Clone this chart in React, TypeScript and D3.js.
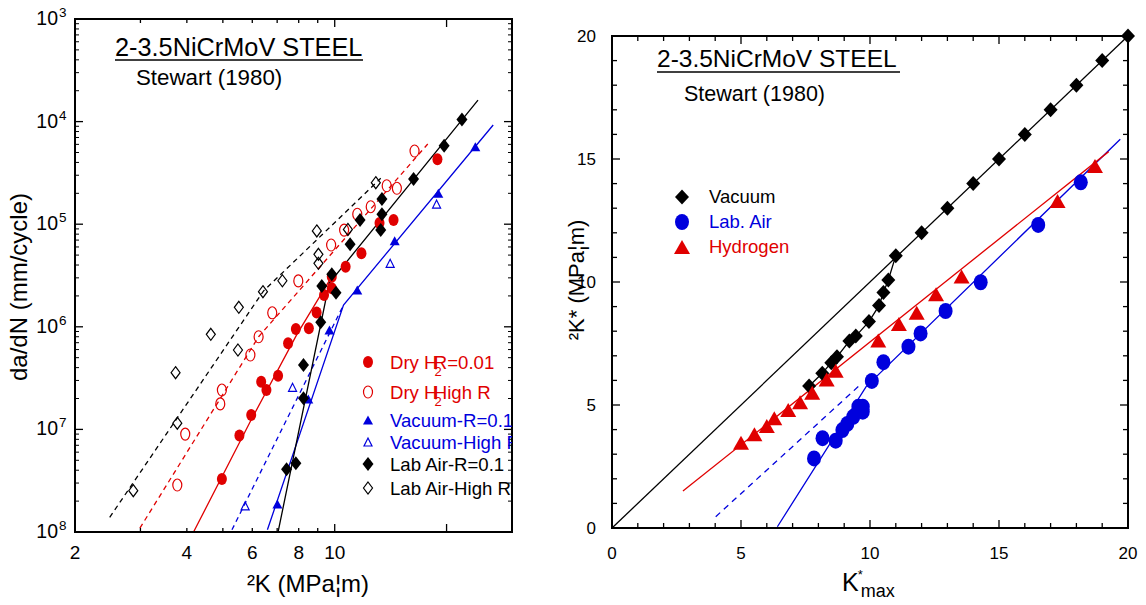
import React from 'react';
import * as d3 from 'd3';

type Pt = [number, number];

// left panel: da/dN vs ²K (log-log)
const dryH2R001: Pt[] = [[18.9, 4.29e-5], [14.4, 1.1e-5], [13.2, 1.03e-5], [11.8, 5.2e-6], [10.7, 3.85e-6], [9.82, 3.08e-6], [9.82, 2.37e-6], [9.36, 2.04e-6], [8.94, 1.38e-6], [8.52, 9.67e-7], [7.86, 9.5e-7], [7.49, 6.9e-7], [7.04, 3.34e-7], [6.55, 2.42e-7], [6.34, 2.92e-7], [5.96, 1.38e-7], [5.54, 8.7e-8], [4.97, 3.29e-8]];
const dryH2HighR: Pt[] = [[16.4, 5.17e-5], [14.7, 2.24e-5], [13.8, 2.37e-5], [12.5, 1.48e-5], [11.5, 1.25e-5], [10.6, 8.77e-6], [9.78, 6.27e-6], [7.98, 2.8e-6], [6.79, 1.37e-6], [6.24, 8.0e-7], [5.93, 5.31e-7], [4.97, 2.42e-7], [4.92, 1.77e-7], [3.96, 9.0e-8], [3.77, 2.87e-8]];
const vacuumR01: Pt[] = [[23.9, 5.69e-5], [19.0, 2.0e-5], [14.5, 6.9e-6], [11.5, 2.29e-6], [9.68, 9.3e-7], [8.49, 1.98e-7], [7.01, 1.87e-8]];
const vacuumHighR: Pt[] = [[18.8, 1.57e-5], [14.1, 4.16e-6], [7.7, 2.57e-7], [5.74, 1.8e-8]];
const labAirR01: Pt[] = [[22.0, 1.05e-4], [19.7, 5.82e-5], [16.3, 2.76e-5], [13.4, 1.76e-5], [13.4, 1.25e-5], [13.3, 8.8e-6], [11.7, 1.1e-5], [11.0, 6.37e-6], [9.82, 3.25e-6], [9.23, 2.5e-6], [10.08, 2.15e-6], [9.17, 1.11e-6], [8.24, 4.25e-7], [8.24, 2.01e-7], [7.86, 4.68e-8], [7.42, 4.08e-8]];
const labAirHighR: Pt[] = [[12.9, 2.54e-5], [10.85, 8.9e-6], [8.95, 8.6e-6], [9.04, 5.09e-6], [9.04, 4.16e-6], [7.23, 2.81e-6], [6.41, 2.2e-6], [5.52, 1.55e-6], [4.64, 8.45e-7], [5.49, 5.94e-7], [3.73, 3.57e-7], [3.77, 1.15e-7], [2.87, 2.53e-8]];

const dryH2R001Fit: Pt[] = [[4.17, 1e-8], [5.96, 1.24e-7], [7.89, 8.3e-7], [9.82, 3.08e-6]];
const dryH2HighRFit: Pt[] = [[2.99, 1.09e-8], [6.24, 8.0e-7], [17.8, 6.05e-5]];
const vacuumR01Fit: Pt[] = [[6.59, 1.05e-8], [10.56, 1.63e-6], [26.7, 9.27e-5]];
const vacuumHighRFit: Pt[] = [[5.29, 1.05e-8], [10.56, 1.63e-6]];
const labAirR01Fit: Pt[] = [[7.04, 1e-8], [9.66, 2.65e-6], [24.3, 1.62e-4]];
const labAirHighRFit: Pt[] = [[2.48, 1.39e-8], [6.43, 2.23e-6], [13.3, 2.8e-5]];

const leftXTicks = [2, 3, 4, 5, 6, 7, 8, 9, 10, 20, 30];
const leftXLabels = [2, 4, 6, 8, 10];
const leftYExps = [3, 4, 5, 6, 7, 8];

// right panel: ²K* vs K*max
const vacuum: Pt[] = [[7.64, 5.77], [8.15, 6.29], [8.5, 6.72], [8.72, 6.96], [9.2, 7.6], [9.45, 7.8], [9.96, 8.39], [10.35, 9.04], [10.52, 9.57], [10.71, 10.08], [11.0, 11.07], [12, 12], [13, 13], [14, 14], [15, 15], [16, 16], [17, 17], [18, 18], [19, 19], [20, 20]];
const labAir: Pt[] = [[7.83, 2.83], [8.16, 3.65], [8.67, 3.55], [8.93, 3.98], [9.12, 4.23], [9.35, 4.52], [9.55, 4.93], [9.72, 4.93], [9.72, 4.73], [10.07, 5.98], [10.52, 6.74], [11.49, 7.37], [11.96, 7.91], [12.93, 8.82], [14.29, 9.99], [16.52, 12.32], [18.17, 14.05]];
const hydrogen: Pt[] = [[5.0, 3.47], [5.52, 3.81], [6.0, 4.15], [6.29, 4.46], [6.83, 4.8], [7.29, 5.11], [7.76, 5.5], [8.32, 6.04], [8.67, 6.39], [10.32, 7.62], [11.12, 8.29], [11.81, 8.75], [12.56, 9.5], [13.55, 10.22], [17.27, 13.29], [18.72, 14.72]];
const diagonal: Pt[] = [[0, 0], [20, 20]];
const labAirFit: Pt[] = [[6.41, 0.05], [9.85, 5.75], [19.7, 15.8]];
const labAirDashed: Pt[] = [[4.02, 0.46], [9.6, 5.8]];
const hydrogenFit: Pt[] = [[2.75, 1.5], [19.25, 15.3]];
const rightTicks = d3.range(0, 21);
const rightLabels = [0, 5, 10, 15, 20];

const RED = '#e00000';
const BLUE = '#0000dd';
const FONT = 'Liberation Sans, Arial, sans-serif';

type Shape = 'circle' | 'tri' | 'diamond';

function Marker({ shape, x, y, w, h, color, filled }: { shape: Shape; x: number; y: number; w: number; h: number; color: string; filled: boolean }) {
    const fill = filled ? color : 'none';
    const sw = filled ? 0 : 1.2;
    if (shape === 'circle') {
        return <ellipse cx={x} cy={y} rx={w / 2} ry={h / 2} fill={fill} stroke={color} strokeWidth={sw} />;
    }
    if (shape === 'tri') {
        const p = `${x - w / 2},${y + h / 2} ${x + w / 2},${y + h / 2} ${x},${y - h / 2}`;
        return <polygon points={p} fill={fill} stroke={color} strokeWidth={sw} />;
    }
    const p = `${x},${y - h / 2} ${x + w / 2},${y} ${x},${y + h / 2} ${x - w / 2},${y}`;
    return <polygon points={p} fill={fill} stroke={color} strokeWidth={sw} />;
}

const App = () => {
    const xL = d3.scaleLog().domain([2, 30]).range([75, 512]);
    const yL = d3.scaleLog().domain([1e-8, 1e-3]).range([532, 19]);
    const xR = d3.scaleLinear().domain([0, 20]).range([612, 1128]);
    const yR = d3.scaleLinear().domain([0, 20]).range([528, 36]);

    const lineL = d3.line<Pt>().x(d => xL(d[0])).y(d => yL(d[1]));
    const lineR = d3.line<Pt>().x(d => xR(d[0])).y(d => yR(d[1]));

    const leftYMinor: number[] = [];
    for (let e = 8; e > 3; e--) {
        for (let m = 2; m <= 9; m++) leftYMinor.push(m * Math.pow(10, -e));
    }

    const leftSeries = [
        { data: dryH2R001, shape: 'circle' as Shape, color: RED, filled: true, w: 10, h: 12, label: 'R=0.01' },
        { data: dryH2HighR, shape: 'circle' as Shape, color: RED, filled: false, w: 9, h: 12, label: 'High R' },
        { data: vacuumR01, shape: 'tri' as Shape, color: BLUE, filled: true, w: 10, h: 9, label: 'Vacuum-R=0.1' },
        { data: vacuumHighR, shape: 'tri' as Shape, color: BLUE, filled: false, w: 8, h: 8, label: 'Vacuum-High R' },
        { data: labAirR01, shape: 'diamond' as Shape, color: '#000', filled: true, w: 11, h: 14, label: 'Lab Air-R=0.1' },
        { data: labAirHighR, shape: 'diamond' as Shape, color: '#000', filled: false, w: 9, h: 12, label: 'Lab Air-High R' },
    ];
    const legendRows = [362, 392, 420, 442, 464, 488];

    const leftFits = [
        { d: dryH2R001Fit, c: RED, dash: null },
        { d: dryH2HighRFit, c: RED, dash: '5,4' },
        { d: vacuumR01Fit, c: BLUE, dash: null },
        { d: vacuumHighRFit, c: BLUE, dash: '5,4' },
        { d: labAirR01Fit, c: '#000', dash: null },
        { d: labAirHighRFit, c: '#000', dash: '5,4' },
    ];

    return (
        <svg width={1146} height={605} style={{ position: 'absolute', left: 0, top: 0, background: '#fff' }} fontFamily={FONT}>
            <defs>
                <clipPath id="clipL"><rect x={0} y={0} width={512} height={605} /></clipPath>
                <clipPath id="plotL"><rect x={75} y={19} width={437} height={513} /></clipPath>
            </defs>

            {/* ---------- left panel ---------- */}
            <g clipPath="url(#plotL)">
                {leftFits.map((f, i) => (
                    <path key={i} d={lineL(f.d) || ''} fill="none" stroke={f.c} strokeWidth={1.3} strokeDasharray={f.dash || undefined} />
                ))}
            </g>
            {leftSeries.map((s, i) => s.data.map((d, j) => (
                <Marker key={i + '-' + j} shape={s.shape} x={xL(d[0])} y={yL(d[1])} w={s.w} h={s.h} color={s.color} filled={s.filled} />
            )))}

            <rect x={75} y={19} width={437} height={513} fill="none" stroke="#000" strokeWidth={2} />
            {leftXTicks.map(t => {
                const len = t === 10 || t === 20 ? 8 : 4;
                return (
                    <g key={'xt' + t}>
                        <line x1={xL(t)} x2={xL(t)} y1={532} y2={532 - len} stroke="#000" strokeWidth={1.3} />
                        <line x1={xL(t)} x2={xL(t)} y1={19} y2={19 + len} stroke="#000" strokeWidth={1.3} />
                    </g>
                );
            })}
            {leftXLabels.map(t => (
                <text key={'xl' + t} x={xL(t)} y={559} fontSize={19} textAnchor="middle">{t}</text>
            ))}
            {leftYExps.map(e => (
                <g key={'ye' + e}>
                    <line x1={75} x2={83} y1={yL(Math.pow(10, -e))} y2={yL(Math.pow(10, -e))} stroke="#000" strokeWidth={1.3} />
                    <line x1={512} x2={504} y1={yL(Math.pow(10, -e))} y2={yL(Math.pow(10, -e))} stroke="#000" strokeWidth={1.3} />
                    <text x={58} y={yL(Math.pow(10, -e)) + 6} fontSize={19.5} textAnchor="end">10</text>
                    <text x={59} y={yL(Math.pow(10, -e)) - 2} fontSize={13.5}>{e}</text>
                </g>
            ))}
            {leftYMinor.map((v, i) => (
                <g key={'ym' + i}>
                    <line x1={75} x2={79} y1={yL(v)} y2={yL(v)} stroke="#000" strokeWidth={1} />
                    <line x1={512} x2={508} y1={yL(v)} y2={yL(v)} stroke="#000" strokeWidth={1} />
                </g>
            ))}
            <text transform="translate(27,287) rotate(-90)" fontSize={24} textAnchor="middle">da/dN (mm/cycle)</text>
            <text x={308} y={592} fontSize={24} textAnchor="middle">²K (MPa¦m)</text>

            <text x={115} y={56} fontSize={25.3}>2-3.5NiCrMoV STEEL</text>
            <line x1={115} x2={363} y1={60} y2={60} stroke="#000" strokeWidth={1.5} />
            <text x={136} y={85} fontSize={22.3}>Stewart (1980)</text>

            <g clipPath="url(#clipL)">
                {leftSeries.map((s, i) => (
                    <g key={'lg' + i}>
                        <Marker shape={s.shape} x={368} y={legendRows[i]} w={s.w} h={s.h} color={s.color} filled={s.filled} />
                        {i < 2 ? (
                            <text x={390} y={legendRows[i] + 7} fontSize={18.6} fill={s.color}>
                                Dry H<tspan fontSize={13} dx={-3} dy={7}>2</tspan><tspan dx={-8} dy={-7}>{s.label}</tspan>
                            </text>
                        ) : (
                            <text x={390} y={legendRows[i] + 7} fontSize={18.6} fill={s.color}>{s.label}</text>
                        )}
                    </g>
                ))}
            </g>

            {/* ---------- right panel ---------- */}
            <path d={lineR(diagonal) || ''} fill="none" stroke="#000" strokeWidth={1.3} />
            <path d={lineR(vacuum.slice(0, 11)) || ''} fill="none" stroke="#000" strokeWidth={1.3} />
            <path d={lineR(labAirFit) || ''} fill="none" stroke={BLUE} strokeWidth={1.3} />
            <path d={lineR(labAirDashed) || ''} fill="none" stroke={BLUE} strokeWidth={1.3} strokeDasharray="6,5" />
            <path d={lineR(hydrogenFit) || ''} fill="none" stroke={RED} strokeWidth={1.3} />
            {vacuum.map((d, i) => <Marker key={'v' + i} shape="diamond" x={xR(d[0])} y={yR(d[1])} w={14} h={15} color="#000" filled />)}
            {labAir.map((d, i) => <Marker key={'a' + i} shape="circle" x={xR(d[0])} y={yR(d[1])} w={14} h={16} color={BLUE} filled />)}
            {hydrogen.map((d, i) => <Marker key={'h' + i} shape="tri" x={xR(d[0])} y={yR(d[1])} w={16} h={14} color={RED} filled />)}

            <rect x={612} y={36} width={516} height={492} fill="none" stroke="#000" strokeWidth={2} />
            {rightTicks.map(t => {
                const len = t % 5 === 0 ? 8 : 5;
                return (
                    <g key={'rt' + t}>
                        <line x1={xR(t)} x2={xR(t)} y1={528} y2={528 - len} stroke="#000" strokeWidth={1.3} />
                        <line x1={xR(t)} x2={xR(t)} y1={36} y2={36 + len} stroke="#000" strokeWidth={1.3} />
                        <line x1={612} x2={612 + len} y1={yR(t)} y2={yR(t)} stroke="#000" strokeWidth={1.3} />
                        <line x1={1128} x2={1128 - len} y1={yR(t)} y2={yR(t)} stroke="#000" strokeWidth={1.3} />
                    </g>
                );
            })}
            {rightLabels.map(t => (
                <g key={'rl' + t}>
                    <text x={xR(t)} y={559} fontSize={17} textAnchor="middle">{t}</text>
                    <text x={596} y={yR(t) + 6} fontSize={17} textAnchor="end">{t}</text>
                </g>
            ))}
            <text transform="translate(584,280) rotate(-90)" fontSize={22} textAnchor="middle">²K* (MPa¦m)</text>
            <text x={842} y={591} fontSize={25}>K<tspan fontSize={13} dx={-1} dy={-12}>*</tspan><tspan fontSize={18} dx={-2} dy={18}>max</tspan></text>

            <text x={657} y={67} fontSize={24.5}>2-3.5NiCrMoV STEEL</text>
            <line x1={657} x2={900} y1={72} y2={72} stroke="#000" strokeWidth={1.5} />
            <text x={684} y={101} fontSize={21.5}>Stewart (1980)</text>

            <Marker shape="diamond" x={682} y={197} w={14} h={15} color="#000" filled />
            <text x={709} y={203} fontSize={18.5}>Vacuum</text>
            <Marker shape="circle" x={682} y={222} w={14} h={16} color={BLUE} filled />
            <text x={709} y={228} fontSize={18.5} fill={BLUE}>Lab. Air</text>
            <Marker shape="tri" x={682} y={247} w={16} h={14} color={RED} filled />
            <text x={709} y={253} fontSize={18.5} fill={RED}>Hydrogen</text>
        </svg>
    );
};

export default App;
